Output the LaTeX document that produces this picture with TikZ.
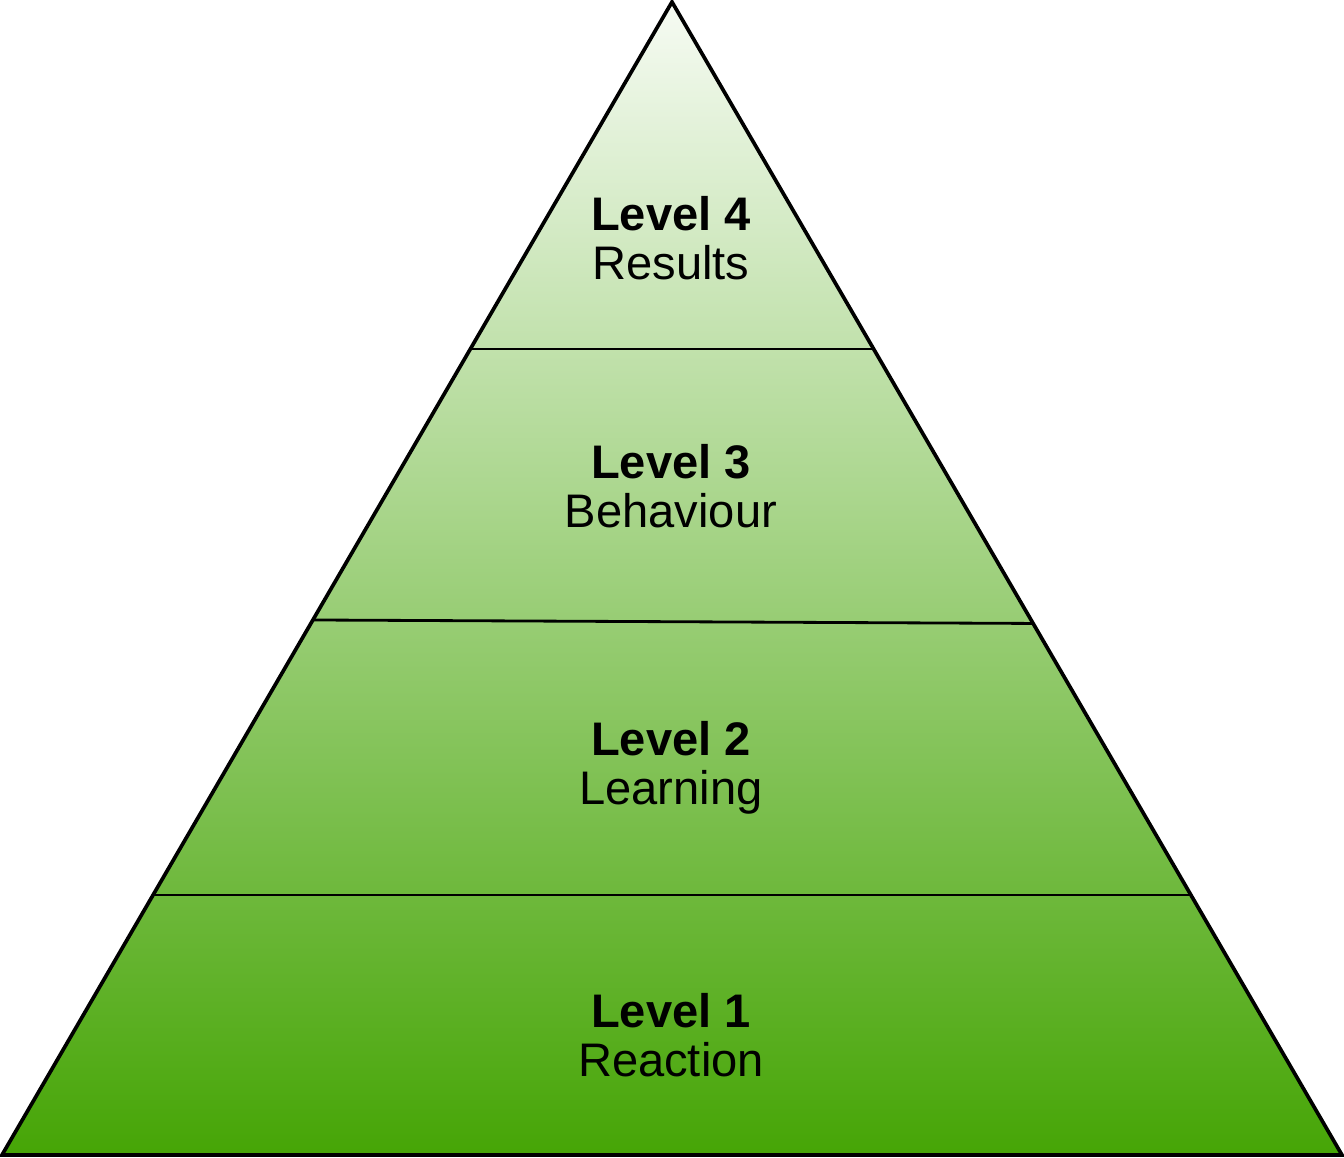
\documentclass[tikz,border=0pt]{standalone}
\usepackage{fontspec}
\setmainfont{Liberation Sans}
\usetikzlibrary{calc}
\definecolor{tipgreen}{HTML}{F6FBF3}
\definecolor{basegreen}{HTML}{46A506}
\tikzset{
    levelrule/.style = {draw = black, line width = 0.8pt},
    leveltext/.style = {align = center, inner sep = 0pt, font = \fontsize{13.4pt}{13.8pt}\selectfont}
}
\begin{document}
\begin{tikzpicture}
            \useasboundingbox (0, 0) rectangle (13.44, 11.58);
            \coordinate (apex) at (6.72, 11.56);
            \coordinate (bl) at (0.02, 0.03);
            \coordinate (br) at (13.42, 0.03);
            
            \shade[top color = tipgreen, bottom color = basegreen] (apex) -- (bl) -- (br) -- cycle;
            
            \coordinate (l4) at ($(apex)!0.301!(bl)$);
            \coordinate (r4) at ($(apex)!0.301!(br)$);
            \coordinate (l3) at ($(apex)!0.536!(bl)$);
            \coordinate (r3) at ($(apex)!0.539!(br)$);
            \coordinate (l2) at ($(apex)!0.7745!(bl)$);
            \coordinate (r2) at ($(apex)!0.7745!(br)$);
            \draw[levelrule] (l4) -- (r4);
            \draw[levelrule] (l3) -- (r3);
            \draw[levelrule] (l2) -- (r2);
            
            \draw[line width = 1.05pt, line join = miter] (apex) -- (bl) -- (br) -- cycle;
            
            \node[leveltext] (level4) at (6.71, 9.20) {\textbf{Level 4} \\ Results};
            \node[leveltext] (level3) at (6.71, 6.72) {\textbf{Level 3} \\ Behaviour};
            \node[leveltext] (level2) at (6.71, 3.90) {\textbf{Level 2} \\ Learning};
            \node[leveltext] (level1) at (6.71, 1.23) {\textbf{Level 1} \\ Reaction};
        \end{tikzpicture}
\end{document}
